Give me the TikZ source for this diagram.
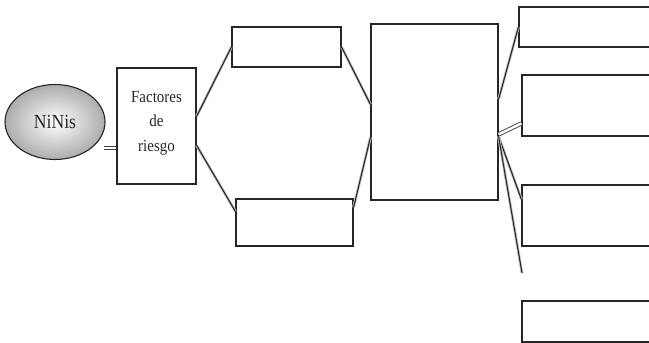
\documentclass[tikz,border=0pt]{standalone}
\usepackage{fontspec}
\setmainfont{Liberation Serif}
\usetikzlibrary{shapes.geometric,calc}
\newcommand{\cnd}[1]{\scalebox{0.88}[1]{#1}}
\begin{document}
\begin{tikzpicture}[x=1pt,y=-1pt,
  box/.style={draw=black!85, line width=1.2pt, fill=white, inner sep=0pt},
  conn/.style={draw=black!85, line width=1.1pt,
    preaction={draw=gray!45, line width=2.8pt}},
  dbl/.style={draw=black!75, double=white, double distance=2.5pt, line width=0.9pt},
  txt/.style={font=\fontsize{17}{24.5}\selectfont, align=center, text=black!85}]
\useasboundingbox (0,0) rectangle (649,343);
\clip (0,0) rectangle (649,343);
% nodes
\node[ellipse, draw=black!85, line width=1.1pt, inner color=white, outer color=gray!65,
  minimum width=100pt, minimum height=75pt, font=\fontsize{20}{22}\selectfont, text=black!85] (ninis) at (55,122) {\cnd{NiNis}};
\node[box, minimum width=79pt, minimum height=116pt] (fac) at (156.5,126) {};
\node[txt] (factxt) at (156.5,123) {\cnd{Factores}\\\cnd{de}\\\cnd{riesgo}};
\node[box, minimum width=109pt, minimum height=40pt] (top) at (286.5,47) {};
\node[box, minimum width=117pt, minimum height=47pt] (bot) at (294.5,222.5) {};
\node[box, minimum width=127pt, minimum height=176pt] (big) at (434.5,112) {};
\node[box, minimum width=161pt, minimum height=40pt] (r1) at (599.5,27) {};
\node[box, minimum width=158pt, minimum height=61pt] (r2) at (601,105.5) {};
\node[box, minimum width=158pt, minimum height=61pt] (r3) at (601,215.5) {};
\node[box, minimum width=158pt, minimum height=41pt] (r4) at (601,321.5) {};
\coordinate (eq) at (104,148);
\coordinate (free) at (522,273);
% connectors
\draw[dbl] (eq) -- (fac.west |- eq);
\draw[conn] ($(fac.north east)+(0,49)$) -- (top.west);
\draw[conn] ($(fac.north east)+(0,78)$) -- ($(bot.north west)+(0,13)$);
\draw[conn] (top.east) -- ($(big.north west)+(0,81)$);
\draw[conn] ($(bot.north east)+(0,9)$) -- ($(big.north west)+(0,114)$);
\draw[conn] ($(big.north east)+(0,76)$) -- (r1.west);
\draw[dbl] ($(big.north east)+(0,111)$) -- ($(r2.north west)+(0,49)$);
\draw[conn] ($(big.north east)+(0,113)$) -- ($(r3.north west)+(0,15)$);
\draw[conn] ($(big.north east)+(0,113)$) -- (free);
\end{tikzpicture}
\end{document}
